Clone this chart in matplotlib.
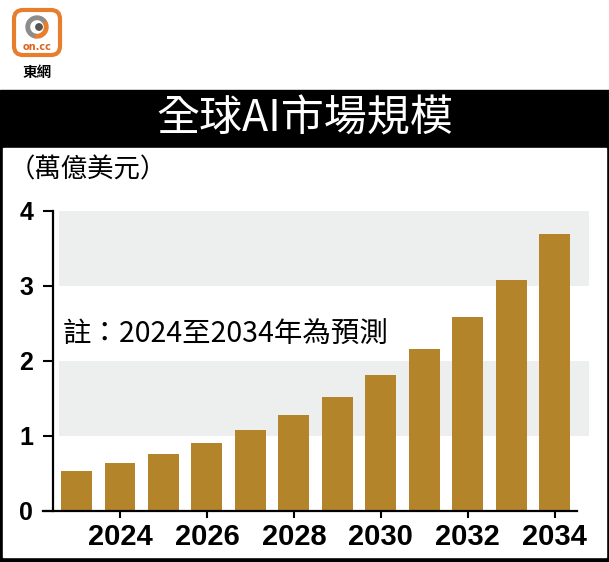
import matplotlib.pyplot as plt
import numpy as np
from matplotlib.patches import FancyBboxPatch, Rectangle, Circle, Wedge

# data (trillion USD), 2024-2034 are forecasts
years = [2023, 2024, 2025, 2026, 2027, 2028, 2029, 2030, 2031, 2032, 2033, 2034]
values = [0.53, 0.63, 0.75, 0.90, 1.07, 1.27, 1.52, 1.81, 2.16, 2.58, 3.08, 3.69]
xtick_years = [2024, 2026, 2028, 2030, 2032, 2034]
yticks = [0, 1, 2, 3, 4]

title = '全球AI市場規模'
unit_label = '（萬億美元）'
note = '註：2024至2034年為預測'

W, H = 609, 562
cjk = ['Noto Sans CJK TC', 'DejaVu Sans']
bar_color = '#B3842A'
band_color = '#EDEEEE'

fig = plt.figure(figsize=(W / 100, H / 100), dpi=100)

# background layer in pixel coordinates
bg = fig.add_axes([0, 0, 1, 1])
bg.set_xlim(0, W)
bg.set_ylim(H, 0)
bg.axis('off')
bg.add_patch(Rectangle((0, 90), W, H - 90, color='black'))
bg.add_patch(Rectangle((3, 148), W - 6, 557 - 148, color='white'))
bg.text(W / 2, 119, title, color='white', fontsize=31, family=cjk,
        ha='center', va='center')
bg.text(9, 170, unit_label, fontsize=19, family=cjk, ha='left', va='center')

# logo
bg.add_patch(FancyBboxPatch((14, 10), 46, 45, boxstyle='round,pad=0,rounding_size=9',
                            fc='white', ec='#E67E2E', lw=3))
bg.add_patch(Wedge((37, 27), 11, 100, 330, width=3.5, color='#8C8C8C'))
bg.add_patch(Wedge((37, 27), 11, 330, 100, width=3.5, color='#E67E2E'))
bg.add_patch(Circle((39, 27), 3.2, color='#555555'))
bg.text(37, 47, 'on.cc', color='#D9651E', fontsize=7, weight='bold',
        ha='center', va='center')
bg.text(37, 72, '東網', fontsize=10.5, family=cjk, weight='bold',
        ha='center', va='center')

# chart axes: px 43..589 horizontally, 0 at y=510.7, 4 at y=210.7
ax = fig.add_axes([43 / W, (H - 510.7) / H, 546 / W, 300 / H])
ax.set_facecolor('none')
ax.set_xlim(2022.23, 2034.79)
ax.set_ylim(0, 4)

for lo in [1, 3]:
    ax.axhspan(lo, lo + 1, xmin=0.03, xmax=1, color=band_color, zorder=0, lw=0)

ax.bar(years, values, width=0.71, color=bar_color, zorder=2)

ax.text(2022.68, 2.35, note, fontsize=20.5, family=cjk, ha='left', va='center')

for s in ['top', 'right']:
    ax.spines[s].set_visible(False)
ax.spines['left'].set_position(('data', 2022.46))
ax.spines['left'].set_bounds(0, 4)
ax.spines['bottom'].set_bounds(2022.23, 2034.52)
for s in ['left', 'bottom']:
    ax.spines[s].set_linewidth(1.6)
    ax.spines[s].set_zorder(3)

ax.set_yticks(yticks)
ax.set_yticklabels([str(v) for v in yticks])
ax.set_xticks(xtick_years)
ax.set_xticklabels([str(y) for y in xtick_years])
ax.tick_params(axis='y', length=7.2, width=1.5, pad=7, labelsize=18)
ax.tick_params(axis='x', length=5, width=1.5, pad=4, labelsize=21)
for lab in ax.get_xticklabels() + ax.get_yticklabels():
    lab.set_family('Liberation Sans')
    lab.set_weight('bold')

fig.savefig('out.png', dpi=100)
